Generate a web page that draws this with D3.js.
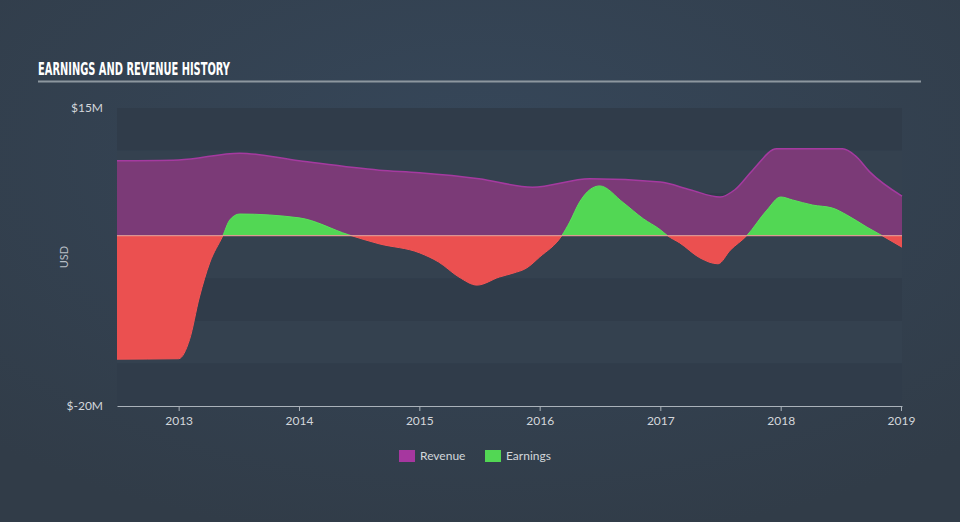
<!DOCTYPE html>
<html><head><meta charset="utf-8">
<script src="https://cdn.jsdelivr.net/npm/d3@7"></script>
<style>
html,body{margin:0;padding:0;background:#333f4d;}
svg{display:block;}
</style></head>
<body>
<script>
const revenueDates = ["2012-06-28","2013-01-01","2013-07-05","2014-01-01","2014-09-01","2015-01-01","2015-07-01","2015-12-10","2016-06-01","2017-01-01","2017-04-01","2017-07-01","2017-08-15","2017-10-08","2017-12-20","2018-07-08","2018-08-15","2018-09-28","2019-01-04"];
const revenueValues = [8.8, 8.9, 9.7, 8.8, 7.7, 7.4, 6.7, 5.7, 6.7, 6.3, 5.4, 4.55, 5.4, 7.7, 10.2, 10.2, 9.4, 7.5, 4.65];

const earningsDates = ["2012-06-28","2013-01-01","2013-02-03","2013-03-05","2013-04-05","2013-05-15","2013-06-05","2013-07-05","2014-01-01","2014-06-01","2014-09-01","2015-01-01","2015-03-01","2015-05-01","2015-06-25","2015-09-01","2015-10-12","2015-11-22","2016-01-01","2016-03-08","2016-04-01","2016-05-01","2016-06-01","2016-07-01","2016-09-10","2016-11-10","2017-01-01","2017-01-23","2017-03-01","2017-05-01","2017-06-25","2017-08-01","2017-09-20","2017-11-20","2018-01-01","2018-02-06","2018-04-08","2018-06-07","2018-07-20","2018-09-20","2018-11-05","2019-01-04"];
const earningsValues = [-14.5, -14.45, -12.2, -7.2, -3.2, 0, 1.85, 2.55, 2.1, 0.1, -0.95, -2.0, -3.1, -4.85, -5.8, -4.85, -4.4, -3.8, -2.5, 0, 1.6, 3.95, 5.4, 5.85, 3.9, 2.0, 0.7, 0, -0.85, -2.6, -3.3, -1.7, 0, 3.0, 4.55, 4.2, 3.6, 3.25, 2.45, 1.0, 0, -1.35];

const yTickValues = [15, -20];
const yTickLabels = ["$15M", "$-20M"];
const xTickYears = ["2013","2014","2015","2016","2017","2018","2019"];
const bandEdges = [15, 10, 5, 0, -5, -10, -15, -20];
const legendItems = ["Revenue", "Earnings"];
const legendColors = ["#a6379f", "#52d754"];

const W = 960, H = 522;
const svg = d3.select("body").append("svg").attr("width", W).attr("height", H);
const defs = svg.append("defs");
const rg = defs.append("radialGradient").attr("id","bg").attr("cx","50%").attr("cy","30%").attr("r","75%");
rg.append("stop").attr("offset","0%").attr("stop-color","#36475a");
rg.append("stop").attr("offset","100%").attr("stop-color","#313c48");
svg.append("rect").attr("width",W).attr("height",H).attr("fill","url(#bg)");

const parse = d3.timeParse("%Y-%m-%d");
const x = d3.scaleTime().domain([parse("2012-06-28"), parse("2019-01-04")]).range([117, 902]);
const y = d3.scaleLinear().domain([-20, 15]).range([406, 108]);

// Title
svg.append("text").attr("x", 38).attr("y", 75)
  .attr("font-family", "'Liberation Sans Narrow','DejaVu Sans Condensed',sans-serif")
  .attr("font-weight", "bold").attr("font-size", 17).attr("fill", "#ffffff")
  .attr("textLength", 192).attr("lengthAdjust", "spacingAndGlyphs")
  .text("EARNINGS AND REVENUE HISTORY");
svg.append("rect").attr("x", 38).attr("y", 80.5).attr("width", 883).attr("height", 2).attr("fill", "#8d979f");

// bands
const bands = d3.pairs(bandEdges);
svg.append("g").selectAll("rect").data(bands).join("rect")
  .attr("x", x.range()[0]).attr("width", x.range()[1] - x.range()[0])
  .attr("y", d => y(d[0])).attr("height", d => y(d[1]) - y(d[0]))
  .attr("fill", (d, i) => i % 2 === 0 ? "#303c4a" : "#34414f");

const rev = revenueDates.map((d, i) => ({date: parse(d), v: revenueValues[i]}));
const earn = earningsDates.map((d, i) => ({date: parse(d), v: earningsValues[i]}));

const curve = d3.curveMonotoneX;
const area = d3.area().curve(curve).x(d => x(d.date)).y0(y(0)).y1(d => y(d.v));
const line = d3.line().curve(curve).x(d => x(d.date)).y(d => y(d.v));

svg.append("path").datum(rev).attr("d", area).attr("fill", "#7b3a77");
svg.append("path").datum(rev).attr("d", line).attr("fill", "none").attr("stroke", "#a53aa0").attr("stroke-width", 1.5);

defs.append("clipPath").attr("id", "above").append("rect")
  .attr("x", 0).attr("y", 0).attr("width", W).attr("height", y(0));
defs.append("clipPath").attr("id", "below").append("rect")
  .attr("x", 0).attr("y", y(0)).attr("width", W).attr("height", H);

svg.append("path").datum(earn).attr("d", area).attr("fill", "#52d754").attr("clip-path", "url(#above)");
svg.append("path").datum(earn).attr("d", line).attr("fill", "none").attr("stroke", "#5ae05b").attr("stroke-width", 1).attr("clip-path", "url(#above)");
svg.append("path").datum(earn).attr("d", area).attr("fill", "#eb5050").attr("clip-path", "url(#below)");
svg.append("path").datum(earn).attr("d", line).attr("fill", "none").attr("stroke", "#f35555").attr("stroke-width", 1).attr("clip-path", "url(#below)");

// zero line
svg.append("line").attr("x1", x.range()[0]).attr("x2", x.range()[1])
  .attr("y1", y(0)).attr("y2", y(0)).attr("stroke", "#f4a3a0").attr("stroke-width", 1);

// x axis
const xAxis = d3.axisBottom(x)
  .tickValues(xTickYears.map(t => parse(t + "-01-01")))
  .tickFormat(d3.timeFormat("%Y")).tickSize(5).tickSizeOuter(0);
const gx = svg.append("g").attr("transform", `translate(0,${y(-20)})`).call(xAxis);
gx.select(".domain").attr("stroke", "#aab2ba");
gx.selectAll(".tick line").attr("stroke", "#aab2ba");
gx.selectAll("text").attr("fill", "#d3d7db").attr("font-size", 12)
  .attr("font-family", "Lato, 'Open Sans', sans-serif").attr("dy", "0.9em");

// y labels
svg.append("g").selectAll("text").data(yTickValues).join("text")
  .attr("x", 103).attr("y", d => y(d)).attr("dy", "0.35em").attr("text-anchor", "end")
  .attr("fill", "#d3d7db").attr("font-size", 12).attr("font-family", "Lato, 'Open Sans', sans-serif")
  .text((d, i) => yTickLabels[i]);
svg.append("text").attr("transform", `translate(68,${y(-2.5)}) rotate(-90)`)
  .attr("text-anchor", "middle").attr("fill", "#b8bfc6").attr("font-size", 11)
  .attr("font-family", "Lato, 'Open Sans', sans-serif").text("USD");

// legend
const lg = svg.append("g").attr("transform", "translate(399,450)");
const offs = [0, 86];
legendItems.forEach((name, i) => {
  const g = lg.append("g").attr("transform", `translate(${offs[i]},0)`);
  g.append("rect").attr("width", 16).attr("height", 12).attr("fill", legendColors[i]);
  g.append("text").attr("x", 21).attr("y", 6).attr("dy", "0.35em").attr("fill", "#d3d7db")
    .attr("font-size", 12).attr("font-family", "Lato, 'Open Sans', sans-serif").text(name);
});
</script>
</body></html>
